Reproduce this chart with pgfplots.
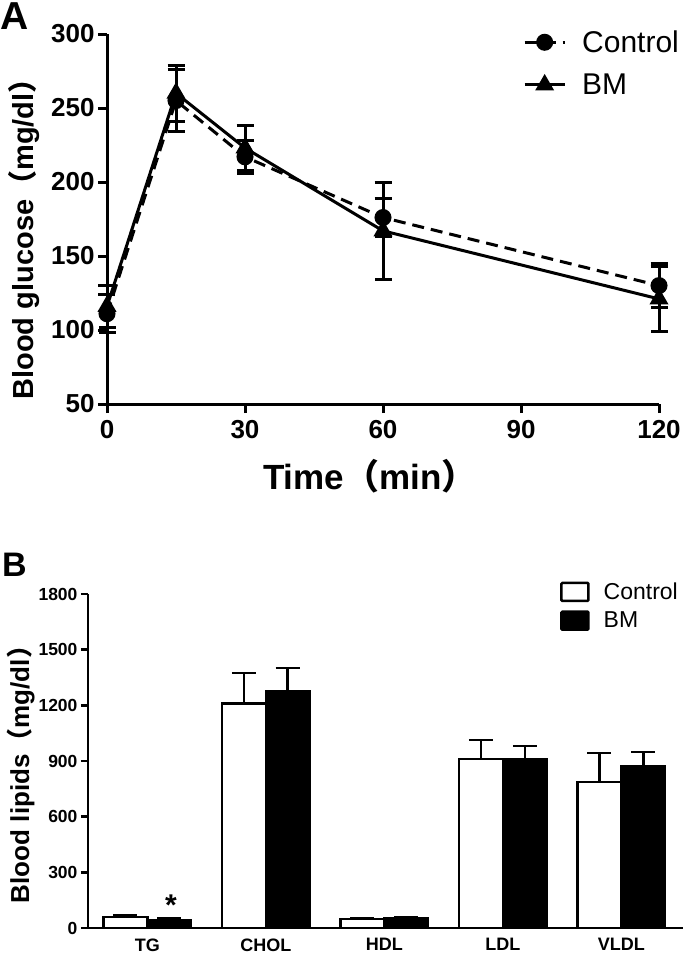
\documentclass[border=0pt]{standalone}
\usepackage{pgfplots}
\pgfplotsset{compat=1.18}
\usepackage{fontspec}
\setmainfont{Liberation Sans}
\newfontfamily\cjk{Noto Sans CJK SC}
\begin{document}
\begin{tikzpicture}[x=1pt,y=1pt]
\path[use as bounding box] (0,0) rectangle (685,-956);
\node[anchor=north west, inner sep=0, font=\fontsize{39}{39}\selectfont\bfseries] at (0pt,-2pt) {A};
\begin{axis}[
 at={(107pt,-404pt)}, anchor=south west, scale only axis, width=552pt, height=370pt,
 xmin=0,xmax=120,ymin=50,ymax=300, clip=false,
 axis lines=left, axis line style={-, line width=3pt},
 xtick={0,30,60,90,120}, ytick={50,100,...,300},
 tick align=outside, major tick length=9pt, tick style={line width=3pt, black},
 /pgf/number format/assume math mode=true,
 tick label style={font=\fontsize{26}{26}\selectfont\bfseries},
 xticklabel style={yshift=-4pt},
 xlabel={Time{\cjk（}min{\cjk）}},
 xlabel style={font=\fontsize{35}{35}\selectfont\bfseries, at={(axis description cs:0.476,-0.195)}, anchor=center},
 ylabel={Blood glucose{\cjk（}mg/dl{\cjk）}},
 ylabel style={font=\fontsize{29}{29}\selectfont\bfseries, at={(axis description cs:-0.150,0.465)}, anchor=center},
 legend style={draw=none, fill=none, at={(1.04,1.015)}, anchor=north east,
   font=\fontsize{30}{30}\selectfont, row sep=16pt, column sep=14pt, inner sep=0pt},
 legend cell align=left,
 legend image code/.code={\draw[mark repeat=2,mark phase=2] plot coordinates {(0pt,0pt) (20pt,0pt) (40pt,0pt)};},
]
\addplot[black, line width=3pt, dash pattern=on 12pt off 7pt, mark=*, mark size=7pt, mark options={solid},
  error bars/.cd, y dir=both, y explicit,
  error bar style={line width=3pt, solid},
  error mark options={rotate=90, mark size=8.5pt, line width=3pt, solid}]
 table[x=t,y=m,y error=e]{
t m e
0 111 13
15 255 21
30 217 11
60 176 13
120 130 15
};
\addlegendentry{Control}
\addplot[black, line width=3pt, mark=triangle*, mark size=8pt, mark options={solid},
  error bars/.cd, y dir=both, y explicit,
  error bar style={line width=3pt, solid},
  error mark options={rotate=90, mark size=8.5pt, line width=3pt, solid}]
 table[x=t,y=m,y error=e]{
t m e
0 116 14
15 260 19
30 223 15
60 167 33
120 121 22
};
\addlegendentry{BM}
\end{axis}

\node[anchor=north west, inner sep=0, font=\fontsize{34}{34}\selectfont\bfseries] at (2pt,-553pt) {B};
\begin{axis}[
 at={(88pt,-928pt)}, anchor=south west, scale only axis, width=595pt, height=334pt,
 xmin=-0.5,xmax=4.52,ymin=0,ymax=1800, clip=false,
 axis lines=left, axis line style={-, line width=2.5pt},
 xtick={0,...,4}, xticklabels={TG,CHOL,HDL,LDL,VLDL},
 ytick={0,300,...,1800},
 tick align=outside, major tick length=7pt, tick style={line width=2.5pt, black},
 x tick style={draw=none}, major x tick style={draw=none},
 /pgf/number format/assume math mode=true,
 /pgf/number format/1000 sep={},
 tick label style={font=\fontsize{17.5}{17.5}\selectfont\bfseries},
 xticklabel style={font=\fontsize{18}{18}\selectfont\bfseries, yshift=0pt},
 ylabel={Blood lipids{\cjk（}mg/dl{\cjk）}},
 ylabel style={font=\fontsize{26}{26}\selectfont\bfseries, at={(axis description cs:-0.113,0.479)}, anchor=center},
 legend style={draw=none, fill=none, at={(0.995,1.04)}, anchor=north east,
   font=\fontsize{23}{23}\selectfont, row sep=7pt, column sep=12pt, inner sep=0pt},
 legend cell align=left,
 legend image code/.code={\draw[#1, line width=2.5pt, rounded corners=1pt] (0pt,-9pt) rectangle (27pt,9pt);},
 bar width=0.37,
]
\addplot[ybar, bar shift=0pt, fill=white, draw=black, line width=2.5pt,
  error bars/.cd, y dir=plus, y explicit,
  error bar style={line width=2.5pt},
  error mark options={rotate=90, mark size=12pt, line width=2.5pt}]
 table[x=c,y=m,y error=e]{
c m e
-0.185 59 8
0.815 1210 165
1.815 48 5
2.815 912 100
3.815 787 157
};
\addlegendentry{Control}
\addplot[ybar, bar shift=0pt, fill=black, draw=black, line width=2.5pt,
  error bars/.cd, y dir=plus, y explicit,
  error bar style={line width=2.5pt},
  error mark options={rotate=90, mark size=12pt, line width=2.5pt}]
 table[x=c,y=m,y error=e]{
c m e
0.185 43 7
1.185 1278 123
2.185 50 9
3.185 912 69
4.185 873 75
};
\addlegendentry{BM}
\node[font=\fontsize{30}{30}\selectfont\bfseries] at (axis cs:0.2,125) {*};
\end{axis}
\end{tikzpicture}
\end{document}
